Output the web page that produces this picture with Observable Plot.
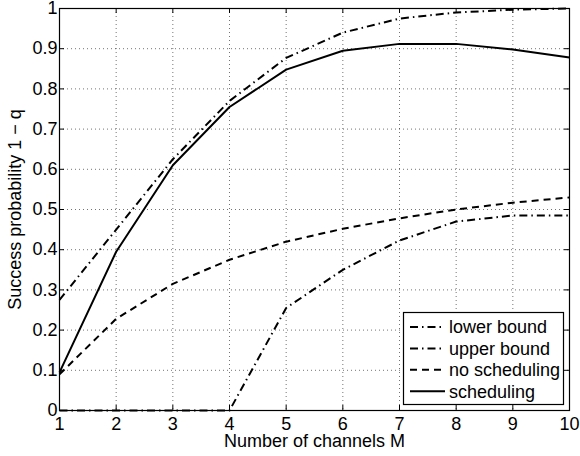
<!DOCTYPE html>
<html><head><meta charset="utf-8">
<script src="https://cdn.jsdelivr.net/npm/d3@7"></script>
<script src="https://cdn.jsdelivr.net/npm/@observablehq/plot@0.6"></script>
<style>
body{margin:0;background:#fff;}
#wrap{position:relative;width:580px;height:456px;font-family:"Liberation Sans",Arial,Helvetica,sans-serif;}
#wrap svg{display:block;}
#legend{position:absolute;left:0;top:0;pointer-events:none;}
</style></head><body><div id="wrap"></div>
<script>
// Data
const M = [1, 2, 3, 4, 5, 6, 7, 8, 9, 10];
const lowerBound   = [0, 0, 0, 0, 0.255, 0.35, 0.423, 0.47, 0.485, 0.485];
const upperBound   = [0.275, 0.45, 0.625, 0.77, 0.877, 0.94, 0.975, 0.99, 0.997, 1.0];
const noScheduling = [0.09, 0.228, 0.315, 0.375, 0.42, 0.452, 0.478, 0.5, 0.517, 0.53];
const scheduling   = [0.095, 0.395, 0.61, 0.755, 0.848, 0.895, 0.912, 0.912, 0.898, 0.878];
const seriesNames = ["lower bound", "upper bound", "no scheduling", "scheduling"];
const xTicks = [1, 2, 3, 4, 5, 6, 7, 8, 9, 10];
const yTicks = [0, 0.1, 0.2, 0.3, 0.4, 0.5, 0.6, 0.7, 0.8, 0.9, 1];
const xLabel = "Number of channels M";
const yLabel = "Success probability 1 \u2212 q";

const seriesValues = [lowerBound, upperBound, noScheduling, scheduling];
const dashes = {"lower bound": "8,4,1.5,4", "upper bound": "8,4,1.5,4", "no scheduling": "7,5", "scheduling": null};
const rows = seriesNames.flatMap((s, i) => M.map((m, j) => ({series: s, M: m, p: seriesValues[i][j]})));

const W = 580, H = 456, mL = 59, mR = 11, mT = 8, mB = 46;
const pW = W - mL - mR, pH = H - mT - mB;
const font = "'Liberation Sans', Arial, Helvetica, sans-serif";

const chart = Plot.plot({
  width: W, height: H,
  marginLeft: mL, marginRight: mR, marginTop: mT, marginBottom: mB,
  style: {fontFamily: font, fontSize: "18px", background: "white", color: "black", overflow: "visible"},
  x: {type: "linear", domain: [1, 10]},
  y: {type: "linear", domain: [0, 1]},
  marks: [
    Plot.gridX(xTicks, {stroke: "#000", strokeOpacity: 0.55, strokeDasharray: "1,3"}),
    Plot.gridY(yTicks, {stroke: "#000", strokeOpacity: 0.55, strokeDasharray: "1,3"}),
    ...seriesNames.map(s => Plot.line(rows.filter(r => r.series === s), {
      x: "M", y: "p", stroke: "black", strokeWidth: 2, strokeDasharray: dashes[s], strokeLinecap: "butt"
    })),
    Plot.tickX(xTicks, {x: d => d, insetTop: pH - 5, stroke: "black"}),
    Plot.tickX(xTicks, {x: d => d, insetBottom: pH - 5, stroke: "black"}),
    Plot.tickY(yTicks, {y: d => d, insetRight: pW - 5, stroke: "black"}),
    Plot.tickY(yTicks, {y: d => d, insetLeft: pW - 5, stroke: "black"}),
    Plot.frame({stroke: "black", strokeWidth: 1.2}),
    Plot.axisX(xTicks, {tickSize: 0, tickPadding: 7, label: null, tickFormat: d => String(d), fontSize: 18}),
    Plot.axisY(yTicks, {tickSize: 0, tickPadding: 2, label: null, tickFormat: d => String(d), fontSize: 18}),
    Plot.text([xLabel], {text: d => d, frameAnchor: "bottom", lineAnchor: "middle", textAnchor: "middle", dy: 31, fontSize: 18}),
    Plot.text([yLabel], {text: d => d, frameAnchor: "left", lineAnchor: "middle", textAnchor: "middle", dx: -44, rotate: -90, fontSize: 18})
  ]
});
document.getElementById("wrap").appendChild(chart);

// Legend
const leg = d3.select("#wrap").append("svg").attr("id", "legend").attr("width", W).attr("height", H);
const box = {x: 403, y: 312, w: 160, h: 92};
leg.append("rect").attr("x", box.x + 0.5).attr("y", box.y + 0.5).attr("width", box.w).attr("height", box.h)
  .attr("fill", "white").attr("stroke", "black").attr("stroke-width", 1.2);
seriesNames.forEach((s, i) => {
  const cy = box.y + 15 + i * 21.4;
  leg.append("line").attr("x1", 410).attr("x2", 445).attr("y1", cy).attr("y2", cy)
    .attr("stroke", "black").attr("stroke-width", 2).attr("stroke-dasharray", dashes[s]);
  leg.append("text").attr("x", 449).attr("y", cy).attr("dy", "0.35em")
    .attr("font-family", font).attr("font-size", 18).attr("fill", "black").text(s);
});
</script>
</body></html>
